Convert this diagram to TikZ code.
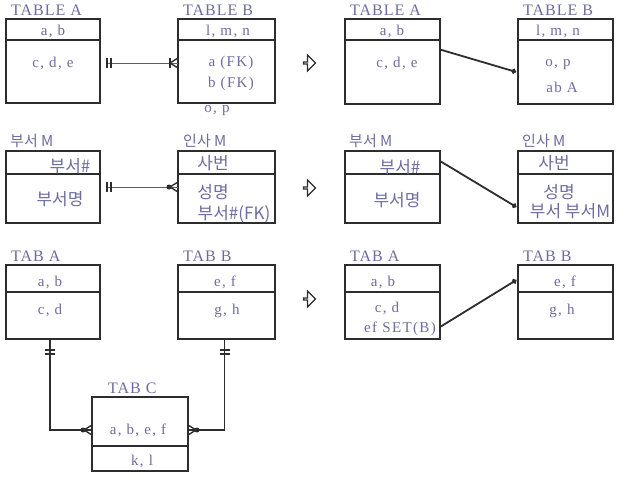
\documentclass[tikz,border=0pt]{standalone}
\usepackage{fontspec}
\setmainfont{Liberation Serif}
\newfontfamily\kr{Noto Sans CJK KR}
\usepackage{tikz}
\usetikzlibrary{arrows.meta}
\usetikzlibrary{shapes.arrows}
\definecolor{TableInk}{RGB}{108,108,160}
\definecolor{TableLine}{RGB}{45,45,45}
\definecolor{LinkGray}{RGB}{95,95,95}
\newcommand{\erfont}{\fontsize{15}{17}\selectfont\addfontfeature{LetterSpace=9}}
\newcommand{\ertitlefont}{\fontsize{16}{18}\selectfont\addfontfeature{LetterSpace=6}}
\newcommand{\krfont}{\kr\fontsize{17}{19}\selectfont}
\newcommand{\krtitlefont}{\kr\fontsize{15}{17}\selectfont}
% table box: name, left, top, width, height, divider offset
\newcommand{\ertable}[6]{%
  \node[tbl, minimum width=#4, minimum height=#5] (#1) at (#2,#3) {};
  \draw[divline] (#1.north west) ++(0,#6) -- ++(#4,0);
}
% double bar: point, angle
\newcommand{\dbar}[2]{%
  \begin{scope}[shift={(#1)}, rotate=#2]
    \draw[tickmark] (0,-5) -- (0,5) (4,-5) -- (4,5);
  \end{scope}
}
% crow's foot: point at box edge, angle, extra mark in local coords
\newcommand{\crowfoot}[3]{%
  \begin{scope}[shift={(#1)}, rotate=#2]
    \draw[tickmark] (-8,0) -- (0,-5) (-8,0) -- (0,5);
    #3
  \end{scope}
}

\begin{document}
\begin{tikzpicture}[x=1pt,y=-1pt,
  tbl/.style={draw=TableLine, line width=1.7pt, anchor=north west, inner sep=0pt, outer sep=0pt},
  divline/.style={draw=TableLine, line width=2.4pt},
  txt/.style={text=TableInk, font=\erfont, inner sep=0pt},
  krtxt/.style={text=TableInk, font=\krfont, inner sep=0pt},
  ttl/.style={text=TableInk, font=\ertitlefont, anchor=base west, inner sep=0pt},
  krttl/.style={text=TableInk, font=\krtitlefont, anchor=base west, inner sep=0pt},
  tickmark/.style={draw=TableLine, line width=1.4pt},
  link/.style={draw=LinkGray, line width=1pt},
  link3/.style={draw=TableLine, line width=1.8pt},
  ref/.style={draw=TableLine, line width=1.8pt, -{Circle[length=5pt]}, shorten >=2pt},
  turnarrow/.style={single arrow, draw=TableLine, fill=white, line width=1.1pt,
    minimum height=12pt, minimum width=16pt, single arrow head extend=4pt, inner sep=0pt}]
  \useasboundingbox (0,0) rectangle (626,477);

  % ----- ROW 1 -----
  \ertable{ta}{6}{19}{94}{84}{21}
  \node[ttl] (tat) at ([xshift=5pt,yshift=4pt]ta.north west) {TABLE A};
  \node[txt] (tak) at (53,31) {a, b};
  \node[txt] (tav) at (53,63) {c, d, e};
  \ertable{tb}{178}{19}{97}{84}{21}
  \node[ttl] (tbt) at ([xshift=5pt,yshift=4pt]tb.north west) {TABLE B};
  \node[txt] (tbk) at (228,31) {l, m, n};
  \node[txt] (tbf1) at (231,63) {a (FK)};
  \node[txt] (tbf2) at (231,84) {b (FK)};
  \node[txt] (tbo) at (217,111) {o, p};
  \draw[link, shorten <=7pt] (ta.east |- tav) -- (tb.west |- tav);
  \path (ta.east |- tav) ++(7,0) coordinate (l1s);
  \coordinate (l1e) at (tb.west |- tav);
  \dbar{l1s}{0}
  \crowfoot{l1e}{0}{\draw[tickmark] (-8,-5) -- (-8,5);}
  \node[turnarrow] (s1) at (309,63) {};

  \ertable{ra}{345}{19}{95}{85}{21}
  \node[ttl] (rat) at ([xshift=5pt,yshift=4pt]ra.north west) {TABLE A};
  \node[txt] (rak) at (392,31) {a, b};
  \node[txt] (rav) at (397,63) {c, d, e};
  \ertable{rb}{518}{19}{95}{85}{21}
  \node[ttl] (rbt) at ([xshift=5pt,yshift=4pt]rb.north west) {TABLE B};
  \node[txt] (rbk) at (558,31) {l, m, n};
  \node[txt] (rbo) at (558,65) {o, p};
  \node[txt] (rbf) at (562,87) {ab A};
  \draw[ref] ([yshift=12pt]ra.east) -- ([yshift=-11pt]rb.west);

  % ----- ROW 2 -----
  \ertable{da}{6}{151}{94}{72}{23}
  \node[krttl] (dat) at ([xshift=4pt,yshift=5pt]da.north west) {부서 M};
  \node[krtxt] (dak) at (70,166) {부서\#};
  \node[krtxt] (dav) at (60,199) {부서명};
  \ertable{db}{178}{151}{97}{72}{23}
  \node[krttl] (dbt) at ([xshift=5pt,yshift=5pt]db.north west) {인사 M};
  \node[krtxt] (dbk) at (213,163) {사번};
  \node[krtxt] (dbn) at (213,192) {성명};
  \node[krtxt] (dbf) at (234,214) {부서\#(FK)};
  \draw[link, shorten <=7pt] (da.east) -- (db.west);
  \path (da.east) ++(7,0) coordinate (l2s);
  \dbar{l2s}{0}
  \crowfoot{db.west}{0}{\fill[TableLine] (-9,0) circle (2.5);}
  \node[turnarrow] (s2) at (309,188) {};

  \ertable{dc}{345}{151}{95}{72}{23}
  \node[krttl] (dct) at ([xshift=4pt,yshift=5pt]dc.north west) {부서 M};
  \node[krtxt] (dck) at (400,167) {부서\#};
  \node[krtxt] (dcv) at (397,200) {부서명};
  \ertable{dd}{518}{151}{95}{72}{23}
  \node[krttl] (ddt) at ([xshift=4pt,yshift=5pt]dd.north west) {인사 M};
  \node[krtxt] (ddk) at (554,163) {사번};
  \node[krtxt] (ddn) at (559,192) {성명};
  \node[krtxt] (ddf) at (570,211) {부서 부서M};
  \draw[ref] ([yshift=26pt]dc.east) -- ([yshift=-21pt]dd.west);

  % ----- ROW 3 -----
  \ertable{ka}{6}{265}{94}{74}{27}
  \node[ttl] (kat) at ([xshift=5pt,yshift=4pt]ka.north west) {TAB A};
  \node[txt] (kak) at (50,282) {a, b};
  \node[txt] (kav) at (50,310) {c, d};
  \ertable{kb}{178}{265}{97}{74}{27}
  \node[ttl] (kbt) at ([xshift=5pt,yshift=4pt]kb.north west) {TAB B};
  \node[txt] (kbk) at (225,282) {e, f};
  \node[txt] (kbv) at (227,311) {g, h};
  \node[turnarrow] (s3) at (309,299) {};

  \ertable{kc}{345}{265}{95}{74}{27}
  \node[ttl] (kct) at ([xshift=5pt,yshift=4pt]kc.north west) {TAB A};
  \node[txt] (kck) at (383,282) {a, b};
  \node[txt] (kcv) at (387,308) {c, d};
  \node[txt] (kcs) at (400,329) {ef SET(B)};
  \ertable{kd}{518}{265}{95}{74}{27}
  \node[ttl] (kdt) at ([xshift=5pt,yshift=4pt]kd.north west) {TAB B};
  \node[txt] (kdk) at (565,282) {e, f};
  \node[txt] (kdv) at (562,311) {g, h};
  \draw[ref] ([yshift=-25pt]kc.east) -- ([yshift=23pt]kd.west);

  % ----- TAB C -----
  \ertable{kt}{92}{397}{96}{74}{49}
  \node[ttl] (ktt) at ([xshift=16pt,yshift=4pt]kt.north west) {TAB C};
  \node[txt] (ktk) at (138,430) {a, b, e, f};
  \node[txt] (ktv) at (142,461) {k, l};
  \coordinate (kin) at (kt.west |- ktk);
  \coordinate (kout) at (kt.east |- ktk);
  \coordinate (kaout) at ([xshift=-3pt]ka.south);
  \coordinate (kbout) at ([xshift=-2pt]kb.south);
  \draw[link3] (kaout) |- (kin);
  \draw[link3] (kbout) |- (kout);
  \path (kaout) ++(0,11) coordinate (m1);
  \path (kbout) ++(0,11) coordinate (m2);
  \dbar{m1}{-90}
  \dbar{m2}{-90}
  \crowfoot{kin}{0}{\fill[TableLine] (-9,0) circle (2.5);}
  \crowfoot{kout}{180}{\fill[TableLine] (-9,0) circle (2.5);}
\end{tikzpicture}
\end{document}
